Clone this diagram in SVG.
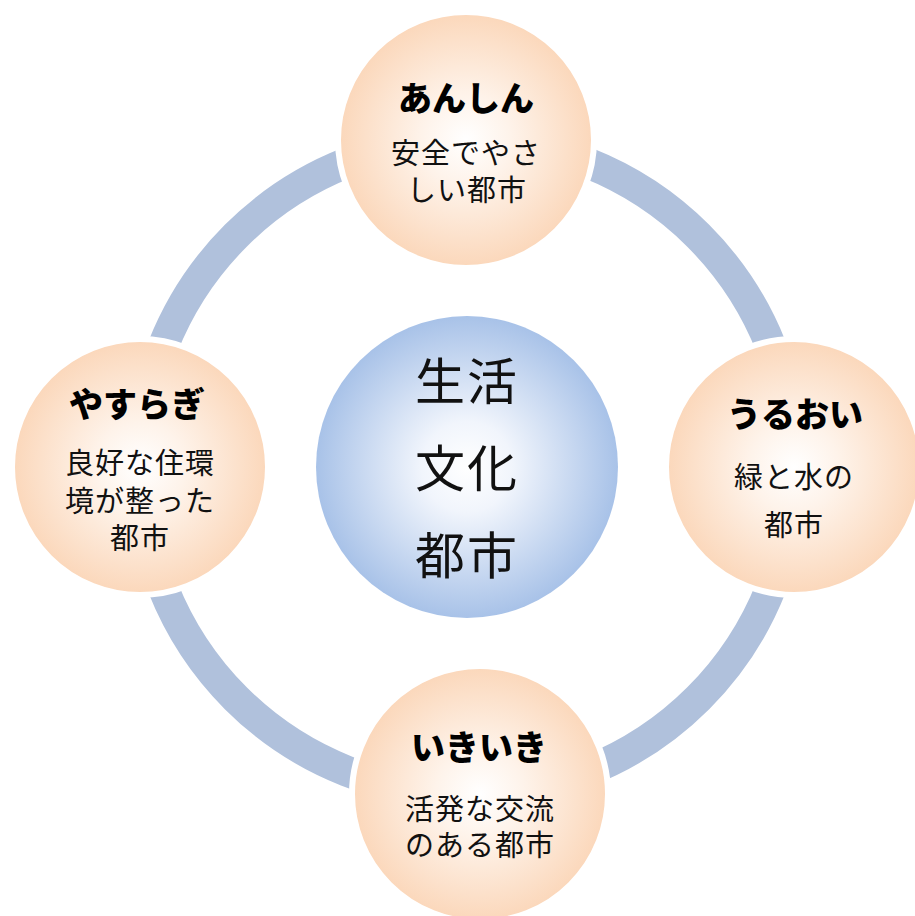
<svg xmlns="http://www.w3.org/2000/svg" width="915" height="916" viewBox="0 0 915 916">
<defs>
<radialGradient id="peach" cx="0.5" cy="0.5" r="0.5">
<stop offset="0" stop-color="#ffffff"/>
<stop offset="0.35" stop-color="#fef3ea"/>
<stop offset="1" stop-color="#fbd7ba"/>
</radialGradient>
<radialGradient id="blue" cx="0.5" cy="0.5" r="0.5">
<stop offset="0" stop-color="#ffffff"/>
<stop offset="0.3" stop-color="#f1f5fc"/>
<stop offset="1" stop-color="#a8c2e8"/>
</radialGradient>
<style>
.node{fill:url(#peach);stroke:#ffffff;stroke-width:6}
.title{font-family:"Noto Sans CJK JP","Noto Sans",sans-serif;font-weight:900;font-size:34px;fill:#000;text-anchor:middle;dominant-baseline:central}
.body{font-family:"Noto Sans CJK JP","Noto Sans",sans-serif;font-weight:normal;font-size:29px;fill:#111;text-anchor:middle;dominant-baseline:central;letter-spacing:1px}
.big{font-family:"Noto Sans CJK JP","Noto Sans",sans-serif;font-weight:normal;font-size:50px;fill:#111;text-anchor:middle;dominant-baseline:central;letter-spacing:2px}
</style>
</defs>
<rect width="915" height="916" fill="#ffffff"/>
<g id="connectors">
<circle cx="467" cy="467" r="327" fill="none" stroke="#b0c1dc" stroke-width="31"/>
</g>
<g id="center">
<circle cx="467" cy="467" r="151" fill="url(#blue)"/>
<text class="big" x="467" y="378">生活</text>
<text class="big" x="467" y="465">文化</text>
<text class="big" x="467" y="552">都市</text>
</g>
<g id="anshin">
<circle class="node" cx="466" cy="140" r="128"/>
<text class="title" x="466" y="96">あんしん</text>
<text class="body" x="466" y="151">安全でやさ</text>
<text class="body" x="467" y="188">しい都市</text>
</g>
<g id="uruoi">
<circle class="node" cx="794" cy="467" r="128"/>
<text class="title" x="795" y="412">うるおい</text>
<text class="body" x="794" y="475">緑と水の</text>
<text class="body" x="794" y="523">都市</text>
</g>
<g id="ikiiki">
<circle class="node" cx="480" cy="794" r="128"/>
<text class="title" x="479" y="745">いきいき</text>
<text class="body" x="480" y="807">活発な交流</text>
<text class="body" x="480" y="843">のある都市</text>
</g>
<g id="yasuragi">
<circle class="node" cx="140" cy="467" r="128"/>
<text class="title" x="137" y="402">やすらぎ</text>
<text class="body" x="140" y="461">良好な住環</text>
<text class="body" x="140" y="499">境が整った</text>
<text class="body" x="140" y="536">都市</text>
</g>
</svg>
